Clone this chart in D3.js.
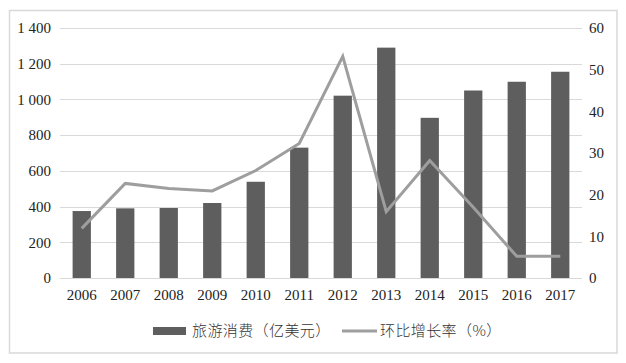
<!DOCTYPE html>
<html lang="zh">
<head>
    <meta charset="UTF-8">
    <title>旅游消费</title>
    <script src="https://d3js.org/d3.v7.min.js"></script>
</head>
<style>
    body{
        margin: 0;
        background-color: #fff;
    }
</style>
<body>
    <script>
    const years = ["2006","2007","2008","2009","2010","2011","2012","2013","2014","2015","2016","2017"];
    const spending = [375, 390, 392, 420, 539, 730, 1021, 1290, 897, 1050, 1099, 1155];
    const growth = [11.9, 22.7, 21.5, 20.9, 25.8, 32.3, 53.2, 15.9, 28.2, 17, 5.2, 5.2];
    const leftTicks = [0, 200, 400, 600, 800, 1000, 1200, 1400];
    const rightTicks = [0, 10, 20, 30, 40, 50, 60];
    const seriesNames = ["旅游消费（亿美元）", "环比增长率（%）"];

    const width = 626;
    const height = 363;
    const margin = { top: 28, right: 44, bottom: 85, left: 60 };
    const chartWidth = width - margin.left - margin.right;
    const chartHeight = height - margin.top - margin.bottom;
    const serif = '"Liberation Serif", "Times New Roman", serif';
    const cjk = '"Noto Sans CJK SC", sans-serif';

    const svg = d3.select('body')
        .append('svg')
        .attr('width', width)
        .attr('height', height);

    // outer frame
    svg.append('rect')
        .attr('x', 9.5)
        .attr('y', 10.5)
        .attr('width', 607.5)
        .attr('height', 342.5)
        .attr('fill', 'none')
        .attr('stroke', '#d9d9d9')
        .attr('stroke-width', 1.5);

    const chart = svg.append('g')
        .attr('transform', `translate(${margin.left}, ${margin.top})`);

    const xScale = d3.scaleBand()
        .domain(years)
        .range([0, chartWidth])
        .paddingInner(0.58)
        .paddingOuter(0.29);

    const yLeft = d3.scaleLinear()
        .domain([0, 1400])
        .range([chartHeight, 0]);

    const yRight = d3.scaleLinear()
        .domain([0, 60])
        .range([chartHeight, 0]);

    // gridlines
    chart.append('g')
        .selectAll('line')
        .data(leftTicks)
        .enter()
        .append('line')
        .attr('x1', 0)
        .attr('x2', chartWidth)
        .attr('y1', d => Math.round(yLeft(d)) + 0.5)
        .attr('y2', d => Math.round(yLeft(d)) + 0.5)
        .attr('stroke', '#d9d9d9')
        .attr('stroke-width', 1);

    // bars
    chart.selectAll('.bar')
        .data(spending)
        .enter()
        .append('rect')
        .attr('class', 'bar')
        .attr('x', (d, i) => xScale(years[i]))
        .attr('y', d => yLeft(d))
        .attr('width', xScale.bandwidth())
        .attr('height', d => chartHeight - yLeft(d))
        .attr('fill', '#5e5e5e');

    // growth line
    const line = d3.line()
        .x((d, i) => xScale(years[i]) + xScale.bandwidth() / 2)
        .y(d => yRight(d));

    chart.append('path')
        .datum(growth)
        .attr('d', line)
        .attr('fill', 'none')
        .attr('stroke', '#9e9e9e')
        .attr('stroke-width', 3);

    // left axis
    const axisL = chart.append('g')
        .call(d3.axisLeft(yLeft).tickValues(leftTicks).tickSize(0).tickPadding(9)
            .tickFormat(d => d >= 1000 ? Math.floor(d / 1000) + ' ' + String(d % 1000).padStart(3, '0') : d));
    axisL.select('.domain').remove();

    // right axis
    const axisR = chart.append('g')
        .attr('transform', `translate(${chartWidth}, 0)`)
        .call(d3.axisRight(yRight).tickValues(rightTicks).tickSize(0).tickPadding(7));
    axisR.select('.domain').remove();

    // bottom axis
    const axisB = chart.append('g')
        .attr('transform', `translate(0, ${chartHeight})`)
        .call(d3.axisBottom(xScale).tickSize(0).tickPadding(11));
    axisB.select('.domain').remove();

    [axisL, axisR, axisB].forEach(a => a.selectAll('text')
        .style('font-family', serif)
        .style('font-size', '15px')
        .style('fill', '#222'));

    // legend
    const legend = svg.append('g')
        .attr('transform', 'translate(153, 331)');

    legend.append('rect')
        .attr('x', 0)
        .attr('y', -4)
        .attr('width', 33)
        .attr('height', 8)
        .attr('fill', '#5e5e5e');

    legend.append('line')
        .attr('x1', 189)
        .attr('x2', 224)
        .attr('y1', 0)
        .attr('y2', 0)
        .attr('stroke', '#9e9e9e')
        .attr('stroke-width', 3);

    legend.selectAll('.legend-label')
        .data(seriesNames)
        .enter()
        .append('text')
        .attr('class', 'legend-label')
        .attr('x', (d, i) => i === 0 ? 39 : 227)
        .attr('y', 0)
        .attr('dy', '0.36em')
        .style('font-family', cjk)
        .style('font-size', '15px')
        .style('font-weight', 300)
        .style('letter-spacing', '0.4px')
        .style('fill', '#333')
        .text(d => d);
    </script>
</body>
</html>
